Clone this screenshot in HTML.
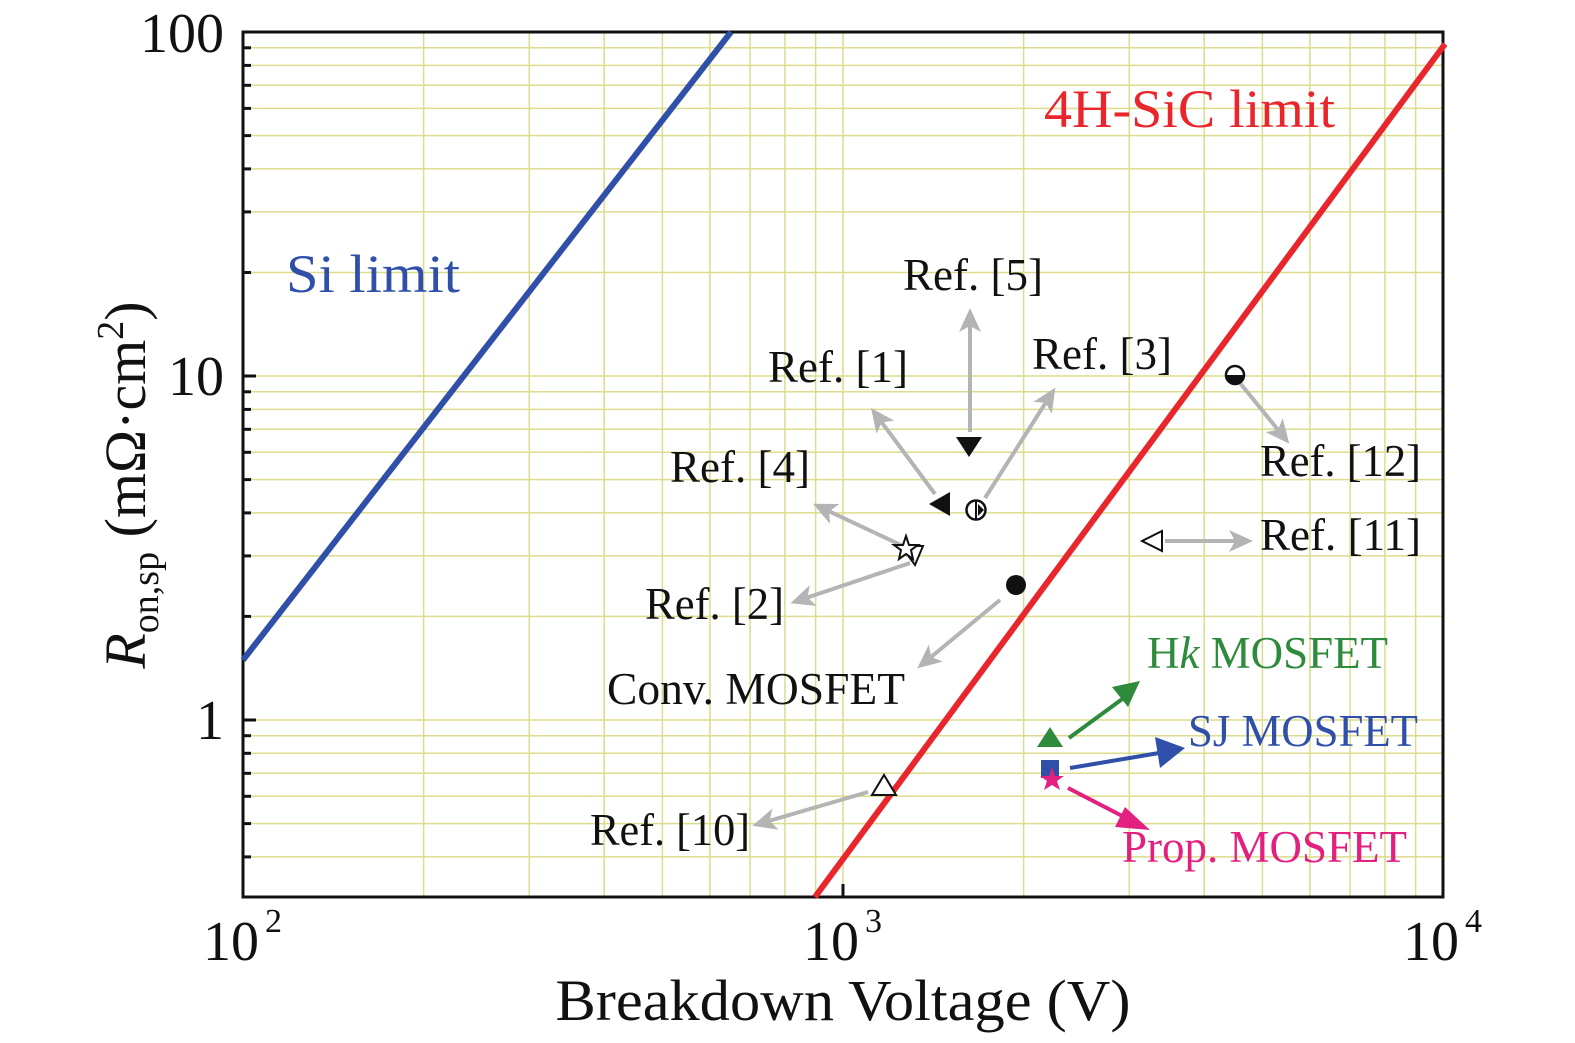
<!DOCTYPE html>
<html><head><meta charset="utf-8"><style>
html,body{margin:0;padding:0;background:#fff;}
svg{display:block;font-family:"Liberation Serif",serif;}
</style></head><body>
<svg width="1575" height="1043" viewBox="0 0 1575 1043" xmlns="http://www.w3.org/2000/svg">
<defs>
<marker id="ag" markerWidth="24" markerHeight="22" refX="14" refY="11" orient="auto" markerUnits="userSpaceOnUse"><path d="M0,0 L24,11 L0,22 L6,11 Z" fill="#b4b4b4"/></marker>
</defs>
<g stroke="#dcdc8c" stroke-width="1.5">
<line x1="423.6" y1="32" x2="423.6" y2="897"/><line x1="529.3" y1="32" x2="529.3" y2="897"/><line x1="604.2" y1="32" x2="604.2" y2="897"/><line x1="662.4" y1="32" x2="662.4" y2="897"/><line x1="709.9" y1="32" x2="709.9" y2="897"/><line x1="750.1" y1="32" x2="750.1" y2="897"/><line x1="784.9" y1="32" x2="784.9" y2="897"/><line x1="815.6" y1="32" x2="815.6" y2="897"/><line x1="843" y1="32" x2="843" y2="897"/>
<line x1="1023.6" y1="32" x2="1023.6" y2="897"/><line x1="1129.3" y1="32" x2="1129.3" y2="897"/><line x1="1204.2" y1="32" x2="1204.2" y2="897"/><line x1="1262.4" y1="32" x2="1262.4" y2="897"/><line x1="1309.9" y1="32" x2="1309.9" y2="897"/><line x1="1350.1" y1="32" x2="1350.1" y2="897"/><line x1="1384.9" y1="32" x2="1384.9" y2="897"/><line x1="1415.6" y1="32" x2="1415.6" y2="897"/>
<line x1="243" y1="47.8" x2="1443" y2="47.8"/><line x1="243" y1="65.4" x2="1443" y2="65.4"/><line x1="243" y1="85.3" x2="1443" y2="85.3"/><line x1="243" y1="108.4" x2="1443" y2="108.4"/><line x1="243" y1="135.6" x2="1443" y2="135.6"/><line x1="243" y1="168.9" x2="1443" y2="168.9"/><line x1="243" y1="211.9" x2="1443" y2="211.9"/><line x1="243" y1="272.5" x2="1443" y2="272.5"/><line x1="243" y1="376" x2="1443" y2="376"/>
<line x1="243" y1="391.8" x2="1443" y2="391.8"/><line x1="243" y1="409.4" x2="1443" y2="409.4"/><line x1="243" y1="429.3" x2="1443" y2="429.3"/><line x1="243" y1="452.3" x2="1443" y2="452.3"/><line x1="243" y1="479.6" x2="1443" y2="479.6"/><line x1="243" y1="512.9" x2="1443" y2="512.9"/><line x1="243" y1="555.9" x2="1443" y2="555.9"/><line x1="243" y1="616.4" x2="1443" y2="616.4"/><line x1="243" y1="720" x2="1443" y2="720"/>
<line x1="243" y1="735.7" x2="1443" y2="735.7"/><line x1="243" y1="753.3" x2="1443" y2="753.3"/><line x1="243" y1="773.3" x2="1443" y2="773.3"/><line x1="243" y1="796.3" x2="1443" y2="796.3"/><line x1="243" y1="823.6" x2="1443" y2="823.6"/><line x1="243" y1="856.9" x2="1443" y2="856.9"/>
</g>
<g stroke="#111" stroke-width="3">
<line x1="243" y1="47.8" x2="251" y2="47.8"/><line x1="243" y1="65.4" x2="251" y2="65.4"/><line x1="243" y1="85.3" x2="251" y2="85.3"/><line x1="243" y1="108.4" x2="251" y2="108.4"/><line x1="243" y1="135.6" x2="251" y2="135.6"/><line x1="243" y1="168.9" x2="251" y2="168.9"/><line x1="243" y1="211.9" x2="251" y2="211.9"/><line x1="243" y1="272.5" x2="251" y2="272.5"/><line x1="243" y1="376" x2="256" y2="376"/>
<line x1="243" y1="391.8" x2="251" y2="391.8"/><line x1="243" y1="409.4" x2="251" y2="409.4"/><line x1="243" y1="429.3" x2="251" y2="429.3"/><line x1="243" y1="452.3" x2="251" y2="452.3"/><line x1="243" y1="479.6" x2="251" y2="479.6"/><line x1="243" y1="512.9" x2="251" y2="512.9"/><line x1="243" y1="555.9" x2="251" y2="555.9"/><line x1="243" y1="616.4" x2="251" y2="616.4"/><line x1="243" y1="720" x2="256" y2="720"/>
<line x1="243" y1="735.7" x2="251" y2="735.7"/><line x1="243" y1="753.3" x2="251" y2="753.3"/><line x1="243" y1="773.3" x2="251" y2="773.3"/><line x1="243" y1="796.3" x2="251" y2="796.3"/><line x1="243" y1="823.6" x2="251" y2="823.6"/><line x1="243" y1="856.9" x2="251" y2="856.9"/>
<line x1="843" y1="897" x2="843" y2="884"/>
</g>
<rect x="243" y="32" width="1200" height="865" fill="none" stroke="#111" stroke-width="3"/>
<line x1="243" y1="660" x2="731" y2="32" stroke="#2f4fa8" stroke-width="6"/>
<line x1="815" y1="897" x2="1445" y2="44" stroke="#e8262c" stroke-width="6"/>
<g stroke="#b4b4b4" stroke-width="4" fill="none" marker-end="url(#ag)">
<line x1="970" y1="432" x2="970" y2="318"/>
<line x1="935" y1="494" x2="877" y2="416"/>
<line x1="985" y1="498" x2="1050" y2="396"/>
<line x1="903" y1="546" x2="822" y2="508"/>
<line x1="910" y1="563" x2="800" y2="600"/>
<line x1="1000" y1="600" x2="925" y2="662"/>
<line x1="1240" y1="383" x2="1283" y2="436"/>
<line x1="1165" y1="541" x2="1243" y2="541"/>
<line x1="868" y1="792" x2="762" y2="823"/>
</g>
<path d="M1142,541 L1162,531 L1162,551 Z" fill="#fff" stroke="#111" stroke-width="2"/>
<path d="M956,437 L982,437 L969,457 Z" fill="#111"/>
<path d="M929,504 L950,492 L950,516 Z" fill="#111"/>
<circle cx="976" cy="510" r="9.5" fill="#fff" stroke="#111" stroke-width="2.5"/>
<line x1="976" y1="501" x2="976" y2="519" stroke="#111" stroke-width="2"/>
<path d="M978,504 L984,510 L978,516 Z" fill="#111"/>
<path d="M901,546 L923,546 L915,565 Z" fill="#fff" stroke="#111" stroke-width="2"/>
<path d="M906,536 L909,545 L918,545 L911,550 L913,559 L906,554 L899,559 L901,550 L894,545 L903,545 Z" fill="#fff" stroke="#111" stroke-width="2"/>
<circle cx="1016" cy="585" r="10" fill="#111"/>
<circle cx="1235" cy="375" r="9" fill="#fff" stroke="#111" stroke-width="2.5"/>
<path d="M1226,375 A9,9 0 0 0 1244,375 Z" fill="#111"/>
<path d="M872,795 L896,795 L884,775 Z" fill="#fff" stroke="#111" stroke-width="2"/>
<path d="M1037,747 L1063,747 L1050,727 Z" fill="#2e8b3c"/>
<rect x="1041" y="760" width="18" height="18" fill="#2f4fa8"/>
<path d="M1052,767 L1055,776 L1064,776 L1057,781 L1060,790 L1052,785 L1044,790 L1047,781 L1040,776 L1049,776 Z" fill="#e2207f"/>
<line x1="1069" y1="738" x2="1125" y2="697" stroke="#2e8b3c" stroke-width="4"/>
<path d="M1140,681 L1112,687 L1128,707 Z" fill="#2e8b3c"/>
<line x1="1070" y1="768" x2="1165" y2="752" stroke="#2f4fa8" stroke-width="4"/>
<path d="M1185,748 L1155,737 L1160,768 Z" fill="#2f4fa8"/>
<line x1="1068" y1="788" x2="1130" y2="820" stroke="#e2207f" stroke-width="4"/>
<path d="M1150,830 L1125,807 L1115,827 Z" fill="#e2207f"/>
<g font-size="45" fill="#111">
<text x="903" y="290" textLength="140" lengthAdjust="spacingAndGlyphs">Ref. [5]</text>
<text x="768" y="382" textLength="140" lengthAdjust="spacingAndGlyphs">Ref. [1]</text>
<text x="1032" y="369" textLength="140" lengthAdjust="spacingAndGlyphs">Ref. [3]</text>
<text x="670" y="482" textLength="140" lengthAdjust="spacingAndGlyphs">Ref. [4]</text>
<text x="645" y="619" textLength="139" lengthAdjust="spacingAndGlyphs">Ref. [2]</text>
<text x="607" y="704" textLength="298" lengthAdjust="spacingAndGlyphs">Conv. MOSFET</text>
<text x="1260" y="476" textLength="161" lengthAdjust="spacingAndGlyphs">Ref. [12]</text>
<text x="1260" y="550" textLength="161" lengthAdjust="spacingAndGlyphs">Ref. [11]</text>
<text x="590" y="845" textLength="160" lengthAdjust="spacingAndGlyphs">Ref. [10]</text>
</g>
<text x="1147" y="668" font-size="45" fill="#2e8b3c" textLength="241" lengthAdjust="spacingAndGlyphs">H<tspan font-style="italic">k</tspan> MOSFET</text>
<text x="1188" y="746" font-size="45" fill="#2f4fa8" textLength="230" lengthAdjust="spacingAndGlyphs">SJ MOSFET</text>
<text x="1122" y="862" font-size="45" fill="#e2207f" textLength="285" lengthAdjust="spacingAndGlyphs">Prop. MOSFET</text>
<text x="286" y="292" font-size="54" fill="#2f4fa8" textLength="174" lengthAdjust="spacingAndGlyphs">Si limit</text>
<text x="1044" y="127" font-size="54" fill="#e8262c" textLength="291" lengthAdjust="spacingAndGlyphs">4H-SiC limit</text>
<g font-size="56" fill="#111" text-anchor="end">
<text x="224" y="52">100</text>
<text x="224" y="395">10</text>
<text x="224" y="739">1</text>
</g>
<g font-size="56" fill="#111">
<text x="203" y="960">10</text><text x="265" y="932" font-size="34">2</text>
<text x="803" y="960">10</text><text x="865" y="932" font-size="34">3</text>
<text x="1403" y="960">10</text><text x="1465" y="932" font-size="34">4</text>
</g>
<text x="843" y="1020" font-size="58" fill="#111" text-anchor="middle" textLength="575" lengthAdjust="spacingAndGlyphs">Breakdown Voltage (V)</text>
<text transform="translate(145,485) rotate(-90)" font-size="58" fill="#111" text-anchor="middle"><tspan font-style="italic">R</tspan><tspan font-size="38" dy="13">on,sp</tspan><tspan dy="-13"> (mΩ·cm</tspan><tspan font-size="38" dy="-22">2</tspan><tspan dy="22">)</tspan></text>
</svg>
</body></html>
